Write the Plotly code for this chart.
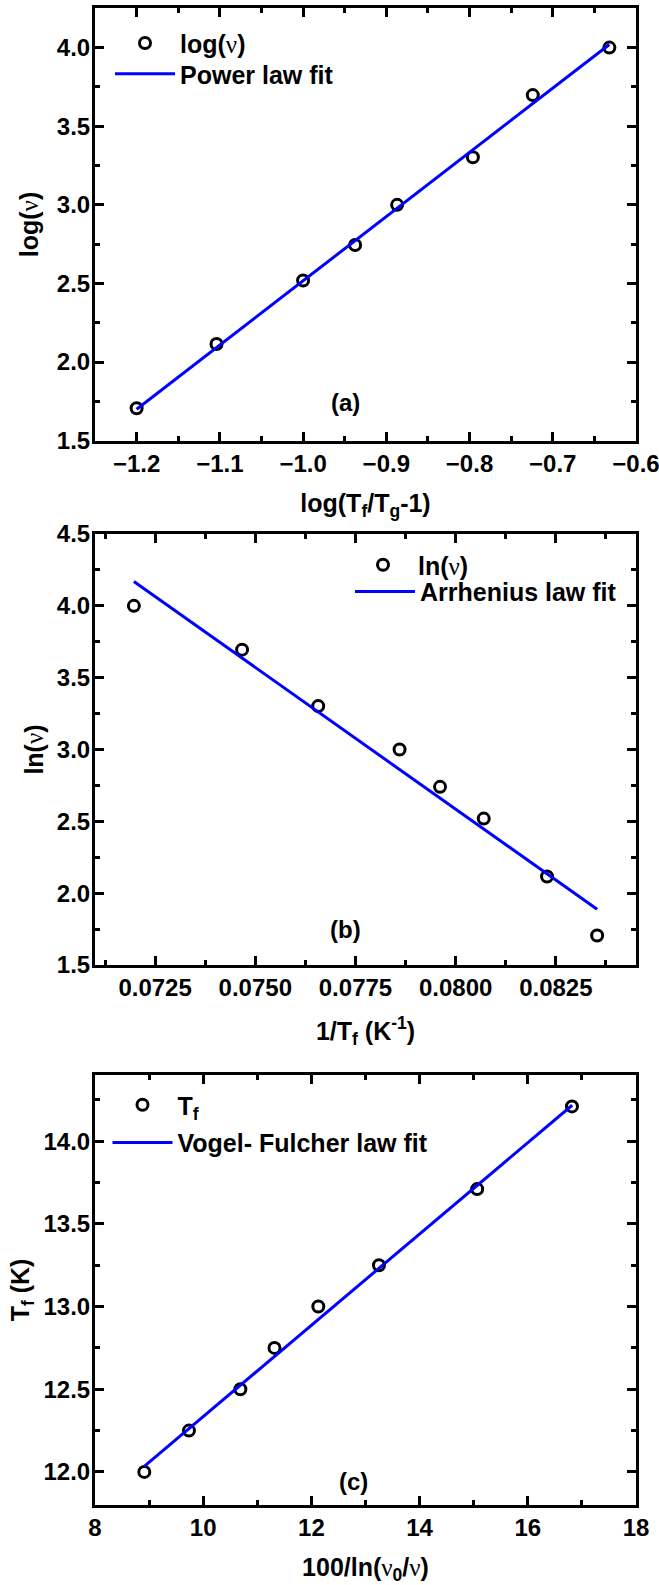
import plotly.graph_objects as go

# ---------------- data ----------------
# (a) power law
a_x = [-1.2, -1.104, -1.0, -0.9375, -0.887, -0.796, -0.724, -0.632]
a_y = [1.706, 2.115, 2.519, 2.745, 3.0, 3.303, 3.698, 4.0]
a_fit_x = [-1.2, -0.632]
a_fit_y = [1.70, 4.02]

# (b) Arrhenius
b_x = [0.07197, 0.07467, 0.07657, 0.07860, 0.07961, 0.08070, 0.08228, 0.08353]
b_y = [4.0, 3.695, 3.302, 3.0, 2.74, 2.519, 2.116, 1.705]
b_fit_x = [0.07197, 0.08353]
b_fit_y = [4.169, 1.888]

# (c) Vogel-Fulcher
c_x = [8.911, 9.737, 10.687, 11.318, 12.128, 13.249, 15.064, 16.816]
c_y = [12.0, 12.25, 12.5, 12.75, 13.0, 13.25, 13.71, 14.21]
c_fit_x = [8.91, 16.82]
c_fit_y = [12.034, 14.217]

# ---------------- styling ----------------
FONT = "Liberation Sans, Arial, sans-serif"
NU = '<span style="font-family:Liberation Serif, Times New Roman, serif;font-weight:normal">ν</span>'
TICK_SIZE = 24
TITLE_SIZE = 25
LEG_SIZE = 25
BLUE = "#0000FF"

W, H = 659, 1585
ML, MR, MT, MB = 95, 23, 8, 80
PW = W - ML - MR
PH = H - MT - MB


def py(pix):  # pixel y -> paper y
    return (H - MB - pix) / PH


def px(pix):  # pixel x -> paper x
    return (pix - ML) / PW


fig = go.Figure()

marker = dict(symbol="circle-open", size=11, color="black", line=dict(width=3, color="black"))
fitline = dict(color=BLUE, width=3)

fig.add_trace(go.Scatter(x=a_x, y=a_y, mode="markers", marker=marker, showlegend=True,
                         name="log(" + NU + ")", xaxis="x", yaxis="y", legend="legend"))
fig.add_trace(go.Scatter(x=a_fit_x, y=a_fit_y, mode="lines", line=fitline, showlegend=True,
                         name="Power law fit", xaxis="x", yaxis="y", legend="legend2"))

fig.add_trace(go.Scatter(x=b_x, y=b_y, mode="markers", marker=marker, showlegend=True,
                         name="ln(" + NU + ")", xaxis="x2", yaxis="y2", legend="legend3"))
fig.add_trace(go.Scatter(x=b_fit_x, y=b_fit_y, mode="lines", line=fitline, showlegend=True,
                         name="Arrhenius law fit", xaxis="x2", yaxis="y2", legend="legend4"))

fig.add_trace(go.Scatter(x=c_x, y=c_y, mode="markers", marker=marker, showlegend=True,
                         name="T<sub>f</sub>", xaxis="x3", yaxis="y3", legend="legend5"))
fig.add_trace(go.Scatter(x=c_fit_x, y=c_fit_y, mode="lines", line=fitline, showlegend=True,
                         name="Vogel- Fulcher law fit", xaxis="x3", yaxis="y3", legend="legend6"))

MINOR = dict(ticks="inside", ticklen=5, tickwidth=2.5, tickcolor="black")


def axis_common(**kw):
    d = dict(showline=True, linecolor="black", linewidth=3, mirror="allticks",
             ticks="inside", ticklen=9, tickwidth=3, tickcolor="black",
             showgrid=False, zeroline=False, automargin=False, ticklabeloverflow="allow",
             tickfont=dict(family=FONT, size=TICK_SIZE, color="black", weight="bold"),
             title_font=dict(family=FONT, size=TITLE_SIZE, color="black", weight="bold"))
    d.update(kw)
    return d


dom = {
    "a": [py(440.7), py(8.3)],
    "b": [py(965), py(534)],
    "c": [py(1505), py(1075)],
}

XSO = -1  # x tick label standoff
YSO = -3  # y tick label standoff

fig.update_layout(
    width=W, height=H, showlegend=True,
    margin=dict(l=ML, r=MR, t=MT, b=MB, autoexpand=False),
    paper_bgcolor="white", plot_bgcolor="white",
    font=dict(family=FONT, color="black"),
    xaxis=axis_common(domain=[0, 1], anchor="y", range=[-1.25, -0.6], dtick=0.1, tick0=-1.2,
                      tickformat=".1f", minor=dict(dtick=0.05, **MINOR),
                      title=dict(text="log(T<sub>f</sub>/T<sub>g</sub>-1)", standoff=19), ticklabelstandoff=XSO),
    yaxis=axis_common(domain=dom["a"], anchor="x", range=[1.5, 4.25], dtick=0.5, tick0=1.5,
                      tickformat=".1f", minor=dict(dtick=0.25, **MINOR),
                      title=dict(text="log(" + NU + ")", standoff=12), ticklabelstandoff=YSO),
    xaxis2=axis_common(domain=[0, 1], anchor="y2", range=[0.0710, 0.0845], dtick=0.0025, tick0=0.0725,
                       tickformat=".4f", minor=dict(dtick=0.00125, tick0=0.0725, **MINOR),
                       title=dict(text="1/T<sub>f</sub> (K<sup>-1</sup>)", standoff=23), ticklabelstandoff=XSO),
    yaxis2=axis_common(domain=dom["b"], anchor="x2", range=[1.5, 4.5], dtick=0.5, tick0=1.5,
                       tickformat=".1f", minor=dict(dtick=0.25, **MINOR),
                       title=dict(text="ln(" + NU + ")", standoff=7), ticklabelstandoff=YSO),
    xaxis3=axis_common(domain=[0, 1], anchor="y3", range=[8, 18], dtick=2, tick0=8,
                       minor=dict(dtick=1, **MINOR),
                       title=dict(text="100/ln(" + NU + "<sub>0</sub>/" + NU + ")", standoff=19), ticklabelstandoff=XSO),
    yaxis3=axis_common(domain=dom["c"], anchor="x3", range=[11.8, 14.4], dtick=0.5, tick0=12,
                       tickformat=".1f", minor=dict(dtick=0.25, tick0=12, **MINOR),
                       title=dict(text="T<sub>f</sub> (K)", standoff=7), ticklabelstandoff=YSO),
)

leg_common = dict(bgcolor="rgba(0,0,0,0)", borderwidth=0, visible=True,
                  font=dict(family=FONT, size=LEG_SIZE, color="black", weight="bold"),
                  xanchor="left", yanchor="middle", tracegroupgap=0, itemwidth=60)

fig.update_layout(
    legend=dict(x=px(110), y=py(43.3), **leg_common),
    legend2=dict(x=px(110), y=py(74), **leg_common),
    legend3=dict(x=px(348), y=py(565), **leg_common),
    legend4=dict(x=px(350), y=py(591.7), **leg_common),
    legend5=dict(x=px(107.5), y=py(1105), **leg_common),
    legend6=dict(x=px(107.5), y=py(1142.7), **leg_common),
)

ann_font = dict(family=FONT, size=TICK_SIZE, color="black", weight="bold")
fig.add_annotation(x=-0.949, y=1.74, xref="x", yref="y", text="(a)", showarrow=False, font=ann_font)
fig.add_annotation(x=0.07724, y=1.744, xref="x2", yref="y2", text="(b)", showarrow=False, font=ann_font)
fig.add_annotation(x=12.78, y=11.94, xref="x3", yref="y3", text="(c)", showarrow=False, font=ann_font)

fig.write_html("out.html")
